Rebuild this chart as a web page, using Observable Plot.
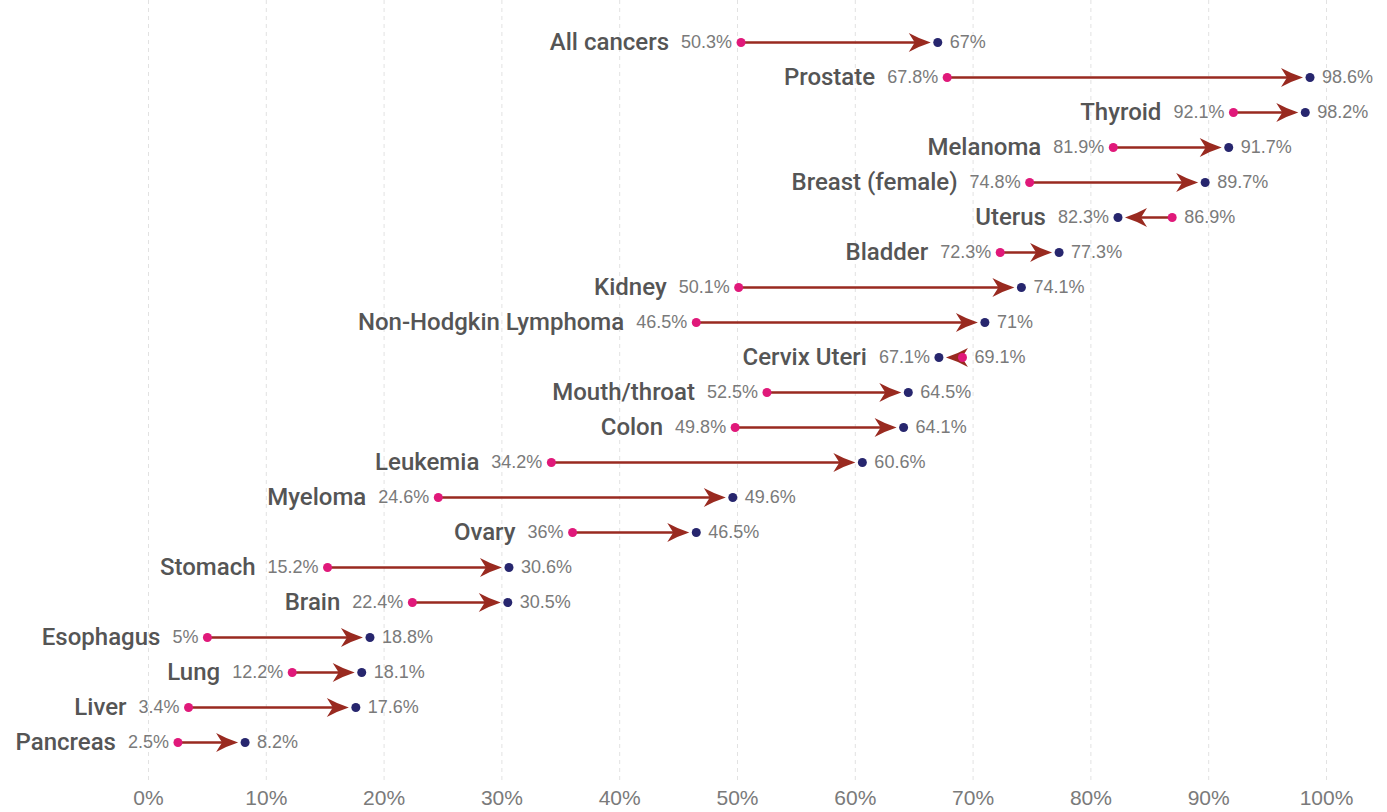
<!DOCTYPE html>
<html><head><meta charset="utf-8">
<script src="https://cdn.jsdelivr.net/npm/d3@7"></script>
<script src="https://cdn.jsdelivr.net/npm/@observablehq/plot@0.6"></script>
<style>body{margin:0;background:#fff;}</style>
</head><body><div id="chart"></div>
<script>
const categories = ["All cancers","Prostate","Thyroid","Melanoma","Breast (female)","Uterus","Bladder","Kidney","Non-Hodgkin Lymphoma","Cervix Uteri","Mouth/throat","Colon","Leukemia","Myeloma","Ovary","Stomach","Brain","Esophagus","Lung","Liver","Pancreas"];
const startValues = [50.3,67.8,92.1,81.9,74.8,86.9,72.3,50.1,46.5,69.1,52.5,49.8,34.2,24.6,36,15.2,22.4,5,12.2,3.4,2.5];
const endValues   = [67,98.6,98.2,91.7,89.7,82.3,77.3,74.1,71,67.1,64.5,64.1,60.6,49.6,46.5,30.6,30.5,18.8,18.1,17.6,8.2];
const xTicks = [0,10,20,30,40,50,60,70,80,90,100];

const rows = categories.map((c,i)=>({cat:c, start:startValues[i], end:endValues[i],
  lo:Math.min(startValues[i],endValues[i]), hi:Math.max(startValues[i],endValues[i])}));
const fmt = v => v + "%";

const VAL_FONT = "18px 'Liberation Sans', Arial, sans-serif";
const canvas = document.createElement("canvas");
const ctx = canvas.getContext("2d");
ctx.font = VAL_FONT;
const measure = s => ctx.measureText(s).width;

function head(dir){
  const s = dir;
  return {draw(c){
    c.moveTo(-7*s,0);
    c.quadraticCurveTo(-18*s,-3.5,-29*s,-9.5);
    c.lineTo(-23*s,0);
    c.lineTo(-29*s,9.5);
    c.quadraticCurveTo(-18*s,3.5,-7*s,0);
    c.closePath();
  }};
}
const headRight = head(1);
const headLeft = head(-1);

const arrowColor = "#992a20";

const catMarks = rows.map(r => Plot.text([r], {
  x:"lo", y:"cat", text:"cat", textAnchor:"end",
  dx: -(9 + measure(fmt(r.lo)) + 12),
  fontSize: 24, fontWeight: 500, fontFamily: "Roboto, 'Liberation Sans', sans-serif", fill:"#555"
}));

const chart = Plot.plot({
  width: 1387, height: 812,
  marginLeft: 148, marginRight: 61, marginTop: 0, marginBottom: 30,
  style: {fontSize: "21px", fontFamily: "'Liberation Sans', Arial, sans-serif", color: "#7a7a7a", background: "#fff", overflow: "visible"},
  x: {domain:[0,100], ticks: xTicks, tickFormat: d => d + "%", tickSize: 0, tickPadding: 8, label: null},
  y: {type: "point", domain: categories, range: [36, 747], padding: 0, axis: null},
  marks: [
    Plot.ruleX(xTicks, {stroke:"#e2e2e2", strokeDasharray:"4,4", strokeWidth:1}),
    Plot.arrow(rows, {x1:"start", x2:"end", y:"cat", stroke: arrowColor, strokeWidth: 2.6, headLength: 0, insetEnd: 12}),
    Plot.dot(rows.filter(r=>r.end>r.start), {x:"end", y:"cat", symbol: headRight, r:5, fill: arrowColor, stroke:"none"}),
    Plot.dot(rows.filter(r=>r.end<r.start), {x:"end", y:"cat", symbol: headLeft, r:5, fill: arrowColor, stroke:"none"}),
    Plot.dot(rows, {x:"start", y:"cat", r:4.5, fill:"#e0197a", stroke:"none"}),
    Plot.dot(rows, {x:"end", y:"cat", r:4.5, fill:"#27266e", stroke:"none"}),
    Plot.text(rows, {x:"lo", y:"cat", text: d => fmt(d.lo), textAnchor:"end", dx:-9, fontSize:18, fill:"#7a7a7a"}),
    Plot.text(rows, {x:"hi", y:"cat", text: d => fmt(d.hi), textAnchor:"start", dx:12, fontSize:18, fill:"#7a7a7a"}),
    ...catMarks
  ]
});
document.getElementById("chart").appendChild(chart);
</script>
</body></html>
